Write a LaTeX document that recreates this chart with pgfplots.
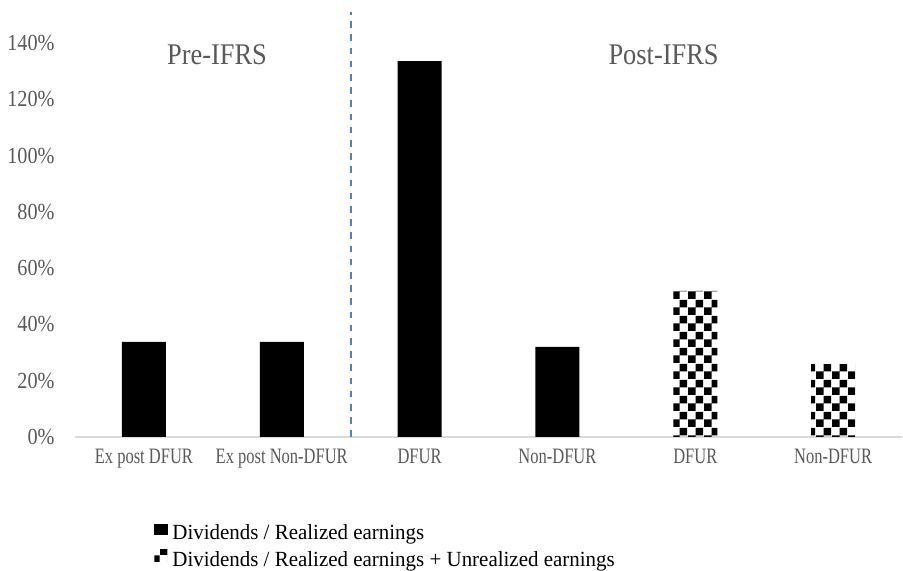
\documentclass[border=0pt]{standalone}
\usepackage{fontspec}
\setmainfont{Liberation Serif}
\newfontfamily\plainserif[FakeStretch=0.97]{Liberation Serif}
\newfontfamily\labelserif[FakeStretch=0.88]{Liberation Serif}
\newfontfamily\catserif[FakeStretch=0.75]{Liberation Serif}
\usepackage{pgfplots}
\pgfplotsset{compat=1.18}
\usetikzlibrary{patterns}

\definecolor{tickgray}{RGB}{89,89,89}
\definecolor{basegray}{RGB}{217,217,217}
\definecolor{divider}{RGB}{79,129,196}

% coarse checkerboard fill for the second ratio
\pgfdeclarepatternformonly{largechecker}{\pgfpointorigin}{\pgfqpoint{8pt}{8pt}}{\pgfqpoint{8pt}{8pt}}{%
  \pgfpathrectangle{\pgfpointorigin}{\pgfqpoint{4pt}{4pt}}%
  \pgfpathrectangle{\pgfqpoint{4pt}{4pt}}{\pgfqpoint{4pt}{4pt}}%
  \pgfusepath{fill}}

\begin{document}
\begin{tikzpicture}
\path[use as bounding box] (-37.5pt,-67pt) rectangle (414pt,218.5pt);
\begin{axis}[
  at={(0,0)}, anchor=south west,
  scale only axis, width=413.5pt, height=197pt,
  xmin=-0.5, xmax=5.5, ymin=0, ymax=140,
  axis line style={draw=none},
  major tick length=0pt,
  xtick={0,1,2,3,4,5},
  xticklabels={Ex post DFUR, Ex post Non-DFUR, DFUR, Non-DFUR, DFUR, Non-DFUR},
  xticklabel style={font=\catserif\fontsize{11}{13}\selectfont, text=tickgray,
    anchor=north, inner sep=0pt, yshift=-6pt},
  ytick={0,20,...,140},
  yticklabel={\pgfmathprintnumber{\tick}\%},
  /pgf/number format/assume math mode=true,
  yticklabel style={font=\labelserif\fontsize{11.5}{14}\selectfont, text=tickgray,
    anchor=east, inner sep=0pt, xshift=-10pt},
  extra y ticks={0}, extra y tick labels={},
  extra y tick style={grid=major, major grid style={basegray, line width=0.8pt}},
  ybar, bar width=22pt,
  clip=false,
  legend style={at={(0.0955,-0.2195)}, anchor=north west, draw=none, fill=none,
    inner sep=0pt, row sep=2.5pt, column sep=2pt,
    nodes={inner sep=0pt, text height=7.5pt, text depth=2.5pt,
      font=\plainserif\fontsize{10.8}{13}\selectfont}},
  legend cell align=left,
]
\addplot[fill=black, draw=none, bar shift=0pt,
  legend image code/.code={\fill[black] (0pt,0pt) rectangle (7pt,5.5pt);}]
  coordinates {(0,33.8) (1,33.8) (2,133.6) (3,32.0)};
\addlegendentry{Dividends / Realized earnings}
\addplot[pattern=largechecker, pattern color=black, draw=none, bar shift=0pt,
  legend image code/.code={\fill[pattern=largechecker, pattern color=black] (0pt,0pt) rectangle (6.5pt,6pt);}]
  coordinates {(4,51.9) (5,25.9)};
\addlegendentry{Dividends / Realized earnings + Unrealized earnings}

% period divider and period captions
\draw[divider, line width=1pt, dash pattern=on 3.3pt off 3.3pt]
  (axis cs:1.5,0) -- (axis cs:1.5,151);
\node[font=\labelserif\fontsize{15}{17}\selectfont, text=tickgray]
  at (axis cs:0.53,135.7) {Pre-IFRS};
\node[font=\labelserif\fontsize{15}{17}\selectfont, text=tickgray]
  at (axis cs:3.77,135.7) {Post-IFRS};
\end{axis}
\end{tikzpicture}
\end{document}
